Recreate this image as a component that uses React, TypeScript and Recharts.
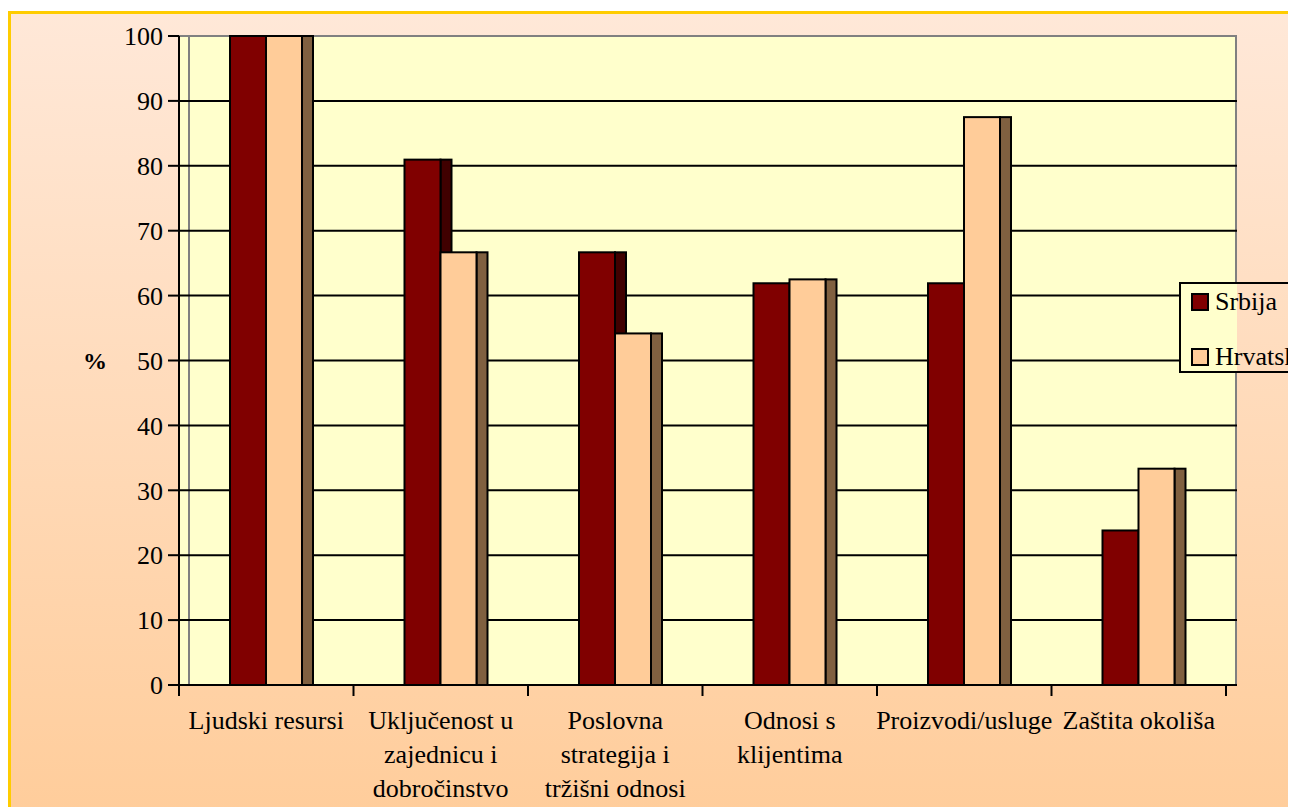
import React from "react";
import {
  BarChart,
  Bar,
  XAxis,
  YAxis,
  CartesianGrid,
  Legend,
} from "recharts";

// kategorije (s prijelomima redaka kao na slici)
const CATEGORIES = [
  "Ljudski resursi",
  "Uključenost u zajednicu i dobročinstvo",
  "Poslovna strategija i tržišni odnosi",
  "Odnosi s klijentima",
  "Proizvodi/usluge",
  "Zaštita okoliša",
];
const CATEGORY_LINES = [
  ["Ljudski resursi"],
  ["Uključenost u", "zajednicu i", "dobročinstvo"],
  ["Poslovna", "strategija i", "tržišni odnosi"],
  ["Odnosi s", "klijentima"],
  ["Proizvodi/usluge"],
  ["Zaštita okoliša"],
];
const SRBIJA = [100, 80.95, 66.67, 61.9, 61.9, 23.81];
const HRVATSKA = [100, 66.67, 54.17, 62.5, 87.5, 33.33];
const Y_TICKS = [0, 10, 20, 30, 40, 50, 60, 70, 80, 90, 100];

const SERIES = [
  { key: "srbija", name: "Srbija", fill: "#800000", side: "#400000" },
  { key: "hrvatska", name: "Hrvatska", fill: "#FFCC99", side: "#806040" },
];

const data = CATEGORIES.map((name, i) => ({
  name,
  srbija: SRBIJA[i],
  hrvatska: HRVATSKA[i],
}));

const DEPTH = 11;
const FONT = "'Liberation Serif', 'Times New Roman', serif";

function Bar3D(props: any) {
  const { x, y, width, height, fill, side } = props;
  if (height <= 0) return null;
  return (
    <g>
      <rect x={x + width} y={y} width={DEPTH} height={height} fill={side} stroke="#000" strokeWidth={2} />
      <rect x={x} y={y} width={width} height={height} fill={fill} stroke="#000" strokeWidth={2} />
    </g>
  );
}

function CategoryTick(props: any) {
  const { x, y, payload, index } = props;
  const half = payload?.offset || 87.25;
  const lines = CATEGORY_LINES[index] || [payload.value];
  return (
    <g>
      <line x1={x - half} x2={x - half} y1={y} y2={y + 11} stroke="#000" strokeWidth={2} />
      {index === CATEGORIES.length - 1 && (
        <line x1={x + half} x2={x + half} y1={y} y2={y + 11} stroke="#000" strokeWidth={2} />
      )}
      <text x={x} y={y + 44} textAnchor="middle" fontSize={26} fill="#000" fontFamily={FONT}>
        {lines.map((l: string, i: number) => (
          <tspan key={i} x={x} dy={i === 0 ? 0 : 34}>
            {l}
          </tspan>
        ))}
      </text>
    </g>
  );
}

function LegendBox() {
  return (
    <div
      style={{
        position: "relative",
        width: 140,
        height: 91,
        boxSizing: "border-box",
        border: "2px solid #000",
        background: "linear-gradient(to right, #FFFFCC 56px, transparent 56px)",
        fontFamily: FONT,
        fontSize: 26,
        color: "#000",
      }}
    >
      {SERIES.map((s, i) => (
        <div key={s.key} style={{ position: "absolute", left: 10, top: 5 + i * 55, display: "flex", alignItems: "center" }}>
          <div style={{ width: 18, height: 18, boxSizing: "border-box", border: "2px solid #000", background: s.fill }} />
          <span style={{ marginLeft: 6, lineHeight: "26px", whiteSpace: "nowrap" }}>{s.name}</span>
        </div>
      ))}
    </div>
  );
}

export default function App() {
  return (
    <div style={{ position: "relative", width: 1288, height: 799, overflow: "hidden", fontFamily: FONT }}>
      <div
        style={{
          position: "absolute",
          left: 0,
          top: 3,
          width: 1320,
          height: 830,
          boxSizing: "border-box",
          border: "3px solid #FFCC00",
          background: "linear-gradient(to bottom, #FFE8D8, #FFCC99)",
        }}
      />
      {/* zadnji zid */}
      <div
        style={{
          position: "absolute",
          left: 171,
          top: 27,
          width: 1058,
          height: 650,
          boxSizing: "border-box",
          background: "#FFFFCC",
          borderTop: "2px solid #808080",
          borderRight: "2px solid #808080",
        }}
      />
      <div style={{ position: "absolute", left: 180, top: 28, width: 2, height: 649, background: "#808080" }} />
      <div style={{ position: "absolute", left: -8, top: -8 }}>
        <BarChart
          width={1296}
          height={807}
          data={data}
          margin={{ top: 36, right: 70, bottom: 0, left: 0 }}
          barGap={0}
          barSize={36}
        >
          <CartesianGrid
            vertical={false}
            horizontal={(p: any) => (
              <line
                key={p.key}
                x1={p.x1}
                x2={p.x2 + DEPTH}
                y1={p.y1}
                y2={p.y2}
                stroke={p.y1 < 40 ? "#808080" : "#000"}
                strokeWidth={2}
              />
            )}
          />
          <XAxis
            dataKey="name"
            height={122}
            tickLine={false}
            tickSize={0}
            tickMargin={0}
            interval={0}
            axisLine={{ stroke: "#000", strokeWidth: 2 }}
            tick={<CategoryTick />}
          />
          <YAxis
            width={179}
            domain={[0, 100]}
            ticks={Y_TICKS}
            interval={0}
            tickSize={11}
            tickMargin={5}
            axisLine={{ stroke: "#000", strokeWidth: 2 }}
            tickLine={{ stroke: "#000", strokeWidth: 2 }}
            tick={{ fill: "#000", fontSize: 26, fontFamily: FONT }}
            label={{ value: "%", position: "insideLeft", offset: 83, fill: "#000", fontSize: 24, fontWeight: "bold" }}
          />
          <Legend
            layout="vertical"
            align="center"
            verticalAlign="middle"
            content={<LegendBox />}
            wrapperStyle={{ position: "absolute", left: 1179, top: 282, width: 140, height: 91 }}
          />
          {SERIES.map((s) => (
            <Bar
              key={s.key}
              dataKey={s.key}
              name={s.name}
              fill={s.fill}
              isAnimationActive={false}
              shape={(p: any) => <Bar3D {...p} fill={s.fill} side={s.side} />}
            />
          ))}
        </BarChart>
      </div>
    </div>
  );
}
